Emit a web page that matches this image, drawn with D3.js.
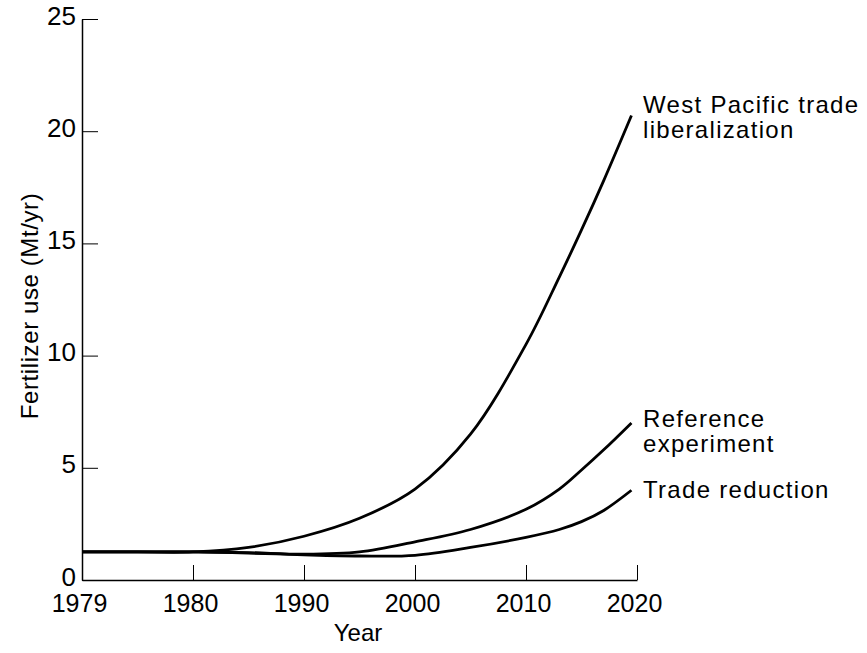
<html>
  <head>
    <title>Fertilizer use scenarios</title>
    <script src="https://d3js.org/d3.v7.min.js"></script>
  </head>
  <body style="margin:0; background:#fff">
    <svg width="867" height="653" id="chart"></svg>
  </body>

  <script type="text/javascript">

    // axis positions (the first tick is printed "1979" in the original)
    var years = [1970, 1975, 1980, 1985, 1990, 1995, 2000, 2005, 2010, 2013, 2015, 2017, 2019.5];
    var xTickValues = [1970, 1980, 1990, 2000, 2010, 2020];
    var xTickLabels = ["1979", "1980", "1990", "2000", "2010", "2020"];
    var yTickValues = [0, 5, 10, 15, 20, 25];

    var westPacific = [1.25, 1.25, 1.25, 1.45, 1.95, 2.75, 4.05, 6.5, 10.5, 13.5, 15.6, 17.8, 20.7];
    var reference   = [1.25, 1.25, 1.25, 1.22, 1.15, 1.25, 1.7, 2.25, 3.15, 4.05, 4.9, 5.8, 7.0];
    var tradeReduction = [1.25, 1.25, 1.25, 1.2, 1.12, 1.07, 1.1, 1.45, 1.9, 2.25, 2.6, 3.1, 4.0];

    var seriesNames = [["West Pacific trade", "liberalization"], ["Reference", "experiment"], ["Trade reduction"]];
    var seriesValues = [westPacific, reference, tradeReduction];

    var plotLeft = 82, plotRight = 637, plotTop = 19, plotBottom = 580;
    var font = "'Liberation Sans', Arial, sans-serif";

    var x = d3.scaleLinear().domain([1970, 2020]).range([plotLeft, plotRight]);
    var y = d3.scaleLinear().domain([0, 25]).range([plotBottom, plotTop]);

    var svg = d3.select("#chart");

    // x axis, ticks point up into the plot
    var xAxis = d3.axisBottom(x)
        .tickValues(xTickValues)
        .tickFormat(function(d, i){ return xTickLabels[i]; })
        .tickSizeInner(-15)
        .tickSizeOuter(0)
        .tickPadding(0);

    var gx = svg.append("g")
        .attr("transform", "translate(0," + plotBottom + ")")
        .call(xAxis);
    gx.select(".domain").attr("stroke", "#000").attr("stroke-width", 1.5);
    gx.selectAll(".tick line").attr("stroke", "#000").attr("stroke-width", 1);
    gx.selectAll(".tick text")
        .attr("y", 32)
        .attr("dy", 0)
        .attr("dx", -3)
        .style("font-family", font)
        .style("font-size", "25px")
        .attr("fill", "#000");

    // y axis, ticks point right into the plot
    var yAxis = d3.axisLeft(y)
        .tickValues(yTickValues)
        .tickSizeInner(-16)
        .tickSizeOuter(0)
        .tickPadding(0);

    var gy = svg.append("g")
        .attr("transform", "translate(" + plotLeft + ",0)")
        .call(yAxis);
    gy.select(".domain").attr("stroke", "#000").attr("stroke-width", 1.5);
    gy.selectAll(".tick line").attr("stroke", "#000").attr("stroke-width", 1);
    gy.selectAll(".tick text")
        .attr("x", -6)
        .attr("dy", 5)
        .style("font-family", font)
        .style("font-size", "26px")
        .attr("fill", "#000");

    // axis titles
    svg.append("text")
        .attr("x", 358)
        .attr("y", 641)
        .attr("text-anchor", "middle")
        .style("font-family", font)
        .style("font-size", "24px")
        .text("Year");

    svg.append("text")
        .attr("transform", "translate(38,306) rotate(-90)")
        .attr("text-anchor", "middle")
        .style("font-family", font)
        .style("font-size", "24px")
        .style("letter-spacing", "0.6px")
        .text("Fertilizer use (Mt/yr)");

    // curves
    var line = d3.line()
        .x(function(d, i){ return x(years[i]); })
        .y(function(d){ return y(d); })
        .curve(d3.curveCatmullRom.alpha(0.5));

    svg.selectAll(".curve")
        .data(seriesValues)
        .enter().append("path")
        .attr("class", "curve")
        .attr("d", line)
        .attr("fill", "none")
        .attr("stroke", "#000")
        .attr("stroke-width", 2.8);

    // end labels
    var labelY = [113, 427, 498];
    seriesNames.forEach(function(lines, s){
        var t = svg.append("text")
            .attr("x", 643)
            .attr("y", labelY[s])
            .style("font-family", font)
            .style("font-size", "24px")
            .style("letter-spacing", "1.3px");
        lines.forEach(function(l, j){
            t.append("tspan").attr("x", 643).attr("dy", j == 0 ? 0 : 25).text(l);
        });
    });

  </script>
</html>
